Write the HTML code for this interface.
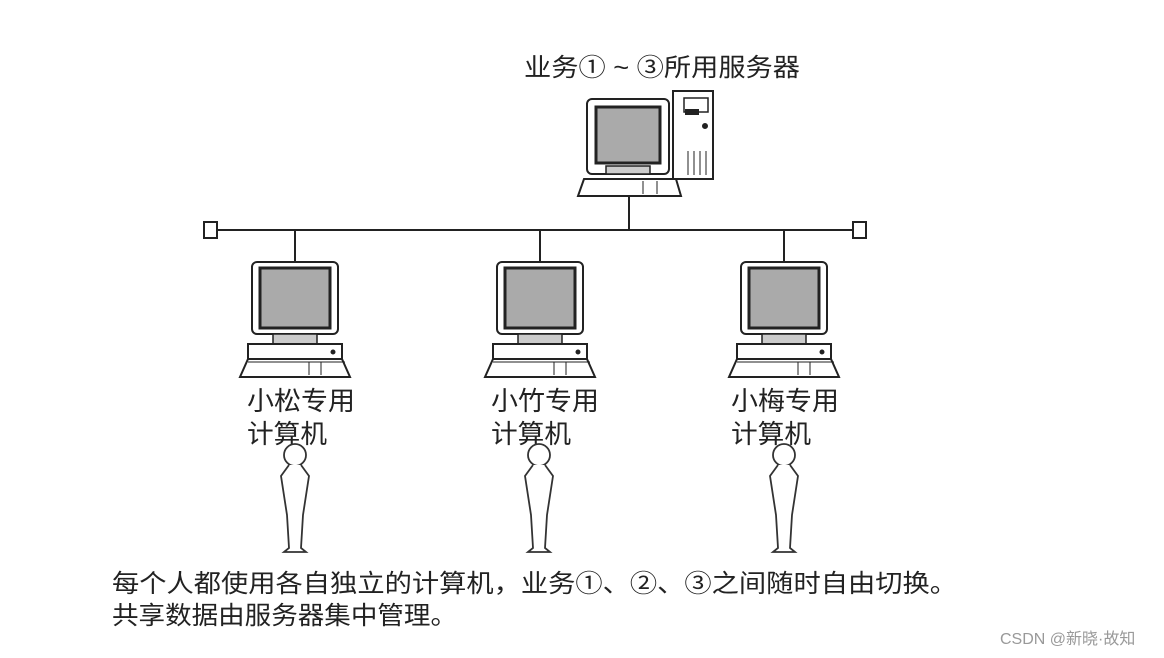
<!DOCTYPE html>
<html><head><meta charset="utf-8"><style>
html,body{margin:0;padding:0;background:#fff;}
svg{display:block;}
text{font-family:"Liberation Sans","Noto Sans CJK SC",sans-serif;fill:#222;}
</style></head><body>
<svg width="1164" height="658" viewBox="0 0 1164 658" xmlns="http://www.w3.org/2000/svg">
<defs>
<g id="client" stroke="#222" stroke-width="2" fill="#fff">
  <rect x="-43" y="0" width="86" height="72" rx="5"/>
  <rect x="-35" y="6" width="70" height="60" fill="#aaa" stroke-width="3"/>
  <rect x="-22" y="72" width="44" height="10" fill="#ccc" stroke-width="1.5"/>
  <rect x="-47" y="82" width="94" height="15"/>
  <circle cx="38" cy="90" r="1.5" fill="#222"/>
  <path d="M-47 97 L47 97 L55 115 L-55 115 Z"/>
  <line x1="-47" y1="100" x2="50" y2="100" stroke-width="1"/>
  <line x1="14" y1="100" x2="14" y2="113" stroke-width="1"/>
  <line x1="26" y1="100" x2="26" y2="113" stroke-width="1"/>
</g>
<g id="person" stroke="#333" stroke-width="1.8" fill="#fff">
  <circle cx="0" cy="15" r="11"/>
  <path d="M-6 25 L-14 36 L-8 75 L-6 108 L-11 112 L11 112 L6 108 L8 75 L14 36 L6 25"/>
</g>
</defs>

<text x="524" y="76" font-size="25" textLength="276" lengthAdjust="spacingAndGlyphs">业务① ~ ③所用服务器</text>

<!-- server -->
<g stroke="#222" stroke-width="2" fill="#fff">
  <rect x="587" y="99" width="82" height="75" rx="5"/>
  <rect x="596" y="107" width="64" height="56" fill="#aaa" stroke-width="3"/>
  <rect x="606" y="166" width="44" height="8" fill="#ccc" stroke-width="1.5"/>
  <rect x="673" y="91" width="40" height="88"/>
  <rect x="684" y="98" width="24" height="14" stroke-width="1.5"/>
  <rect x="686" y="110" width="12" height="4" fill="#222"/>
  <circle cx="705" cy="126" r="2" fill="#222"/>
  <line x1="688" y1="151" x2="688" y2="175" stroke-width="1"/>
  <line x1="694" y1="151" x2="694" y2="175" stroke-width="1"/>
  <line x1="700" y1="151" x2="700" y2="175" stroke-width="1"/>
  <line x1="706" y1="151" x2="706" y2="175" stroke-width="1"/>
  <path d="M584 179 L676 179 L681 196 L578 196 Z"/>
  <line x1="643" y1="181" x2="643" y2="194" stroke-width="1"/>
  <line x1="657" y1="181" x2="657" y2="194" stroke-width="1"/>
</g>
<line x1="629" y1="196" x2="629" y2="230" stroke="#222" stroke-width="2"/>

<!-- bus -->
<line x1="217" y1="230" x2="853" y2="230" stroke="#222" stroke-width="2"/>
<rect x="204" y="222" width="13" height="16" fill="#fff" stroke="#222" stroke-width="2"/>
<rect x="853" y="222" width="13" height="16" fill="#fff" stroke="#222" stroke-width="2"/>
<g stroke="#222" stroke-width="2">
<line x1="295" y1="230" x2="295" y2="262"/>
<line x1="540" y1="230" x2="540" y2="262"/>
<line x1="784" y1="230" x2="784" y2="262"/>
</g>

<use href="#client" x="295" y="262"/>
<use href="#client" x="540" y="262"/>
<use href="#client" x="784" y="262"/>

<g font-size="26">
<text x="247" y="410" textLength="108" lengthAdjust="spacingAndGlyphs">小松专用</text>
<text x="247" y="443" textLength="80" lengthAdjust="spacingAndGlyphs">计算机</text>
<text x="491" y="410" textLength="108" lengthAdjust="spacingAndGlyphs">小竹专用</text>
<text x="491" y="443" textLength="80" lengthAdjust="spacingAndGlyphs">计算机</text>
<text x="731" y="410" textLength="108" lengthAdjust="spacingAndGlyphs">小梅专用</text>
<text x="731" y="443" textLength="80" lengthAdjust="spacingAndGlyphs">计算机</text>
</g>

<use href="#person" x="295" y="440"/>
<use href="#person" x="539" y="440"/>
<use href="#person" x="784" y="440"/>

<g font-size="25">
<text x="112" y="592" textLength="845" lengthAdjust="spacingAndGlyphs">每个人都使用各自独立的计算机，业务①、②、③之间随时自由切换。</text>
<text x="112" y="624" textLength="345" lengthAdjust="spacingAndGlyphs">共享数据由服务器集中管理。</text>
</g>

<text x="1000" y="644" font-size="16" style="fill:#999">CSDN @新晓·故知</text>
</svg>
</body></html>
